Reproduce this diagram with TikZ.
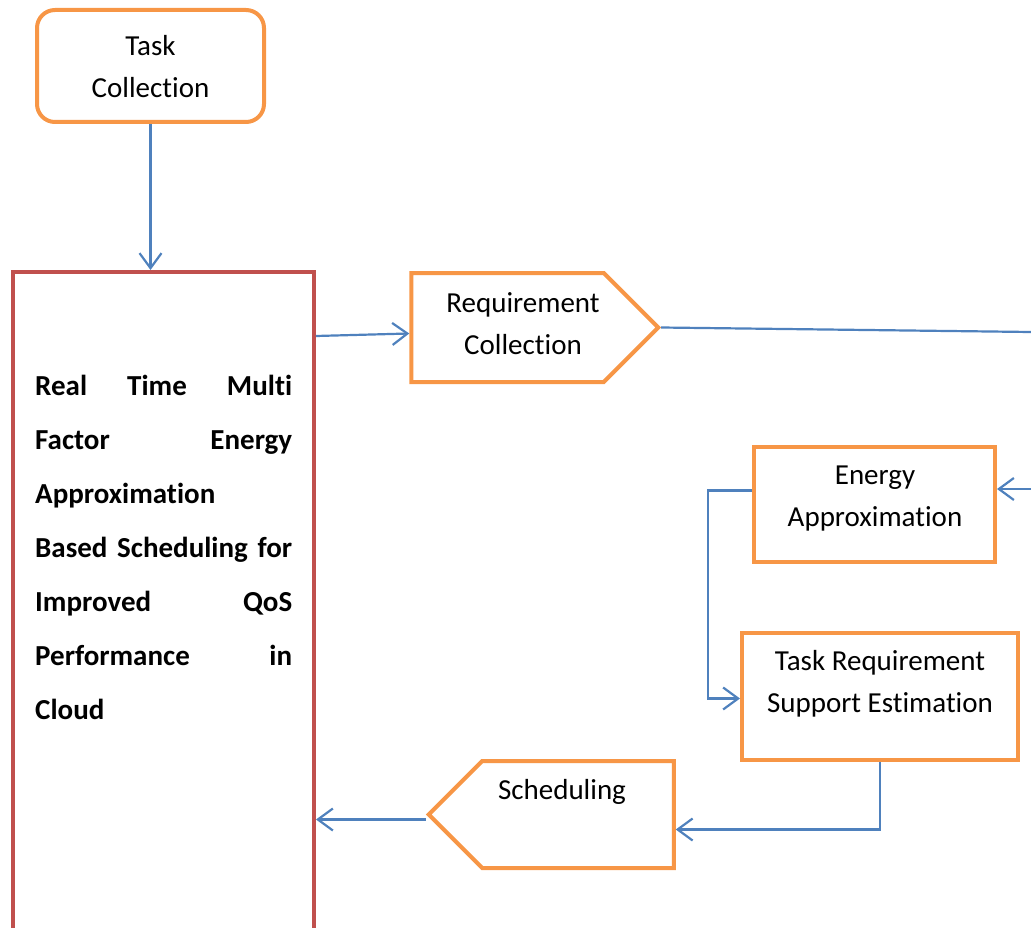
\documentclass[tikz,border=0pt]{standalone}
\usepackage{fontspec}
\setmainfont[Ligatures=NoCommon]{Carlito}
\usetikzlibrary{calc,positioning,shapes.symbols,arrows.meta}
\definecolor{boxorange}{HTML}{F79646}
\definecolor{corered}{HTML}{C0504D}
\definecolor{flowblue}{HTML}{4F81BD}

\begin{document}
\begin{tikzpicture}[x=1pt,y=-1pt,
  box/.style={draw=boxorange,line width=4pt,fill=white,inner sep=0pt},
  sig/.style={box,signal,signal pointer angle=90},
  txt/.style={font=\fontsize{29}{42}\selectfont,align=center,inner sep=0pt},
  flow/.style={draw=flowblue,line width=2.2pt},
  arr/.style={flow,-{Straight Barb[length=15pt,width=22pt]}}]
  \useasboundingbox (0,0) rectangle (1031,928);

  % the main block, cut by the page at the bottom
  \node[draw=corered,line width=4pt,inner sep=0pt,minimum width=301pt,minimum height=700pt] (core) at (163.5,622) {};
  \node[font=\fontsize{29}{54}\selectfont\bfseries,text width=257pt,align=left,inner sep=0pt,anchor=base west] (coretxt) at (35,395)
    {Real\hfill Time\hfill Multi\\Factor\hfill Energy\\Approximation\\Based\hfill Scheduling\hfill for\\Improved\hfill QoS\\Performance\hfill in\\Cloud};

  % boxes (signal centres sit on the flat part)
  \node[box,rounded corners=18pt,minimum width=227pt,minimum height=112pt] (task) at (150.5,66) {};
  \node[sig,signal to=east,minimum width=247pt,minimum height=109pt] (req) at (507.5,327.5) {};
  \node[box,minimum width=241pt,minimum height=115pt] (energy) at (874.5,504.5) {};
  \node[box,minimum width=276pt,minimum height=127pt] (support) at (880,696.5) {};
  \node[sig,signal to=west,minimum width=245pt,minimum height=107pt] (sched) at (578,814.5) {};

  % texts
  \node[txt] (tasktxt) at (150.5,66.5) {Task\\Collection};
  \node[txt] (reqtxt) at (523,323.5) {Requirement\\Collection};
  \node[txt] (energytxt) at (875,498.5) {Energy\\Approximation};
  \node[txt] (supporttxt) at (880,684) {Task Requirement\\Support Estimation};
  \node[txt] (schedtxt) at (562,792) {Scheduling};

  % page edge ends
  \coordinate (outR) at (1031,332);
  \coordinate (inE) at (1031,489);

  % connectors
  \draw[arr] (task.south) -- (task.south |- core.north);
  \draw[arr] ([yshift=-66pt]core.north east) -- ([yshift=-6pt]req.west);
  \draw[flow] (req.east) -- (outR);
  \draw[arr] (inE) -- (inE -| energy.east);
  \draw[arr] ([yshift=14pt]energy.west) -- ++(-44,0) |- ([yshift=-2pt]support.west);
  \draw[arr] (support.south) |- ([yshift=-15pt]sched.east);
  \draw[arr] ([yshift=-5pt]sched.west) -- ([yshift=-5pt]sched.west -| core.east);
\end{tikzpicture}
\end{document}
